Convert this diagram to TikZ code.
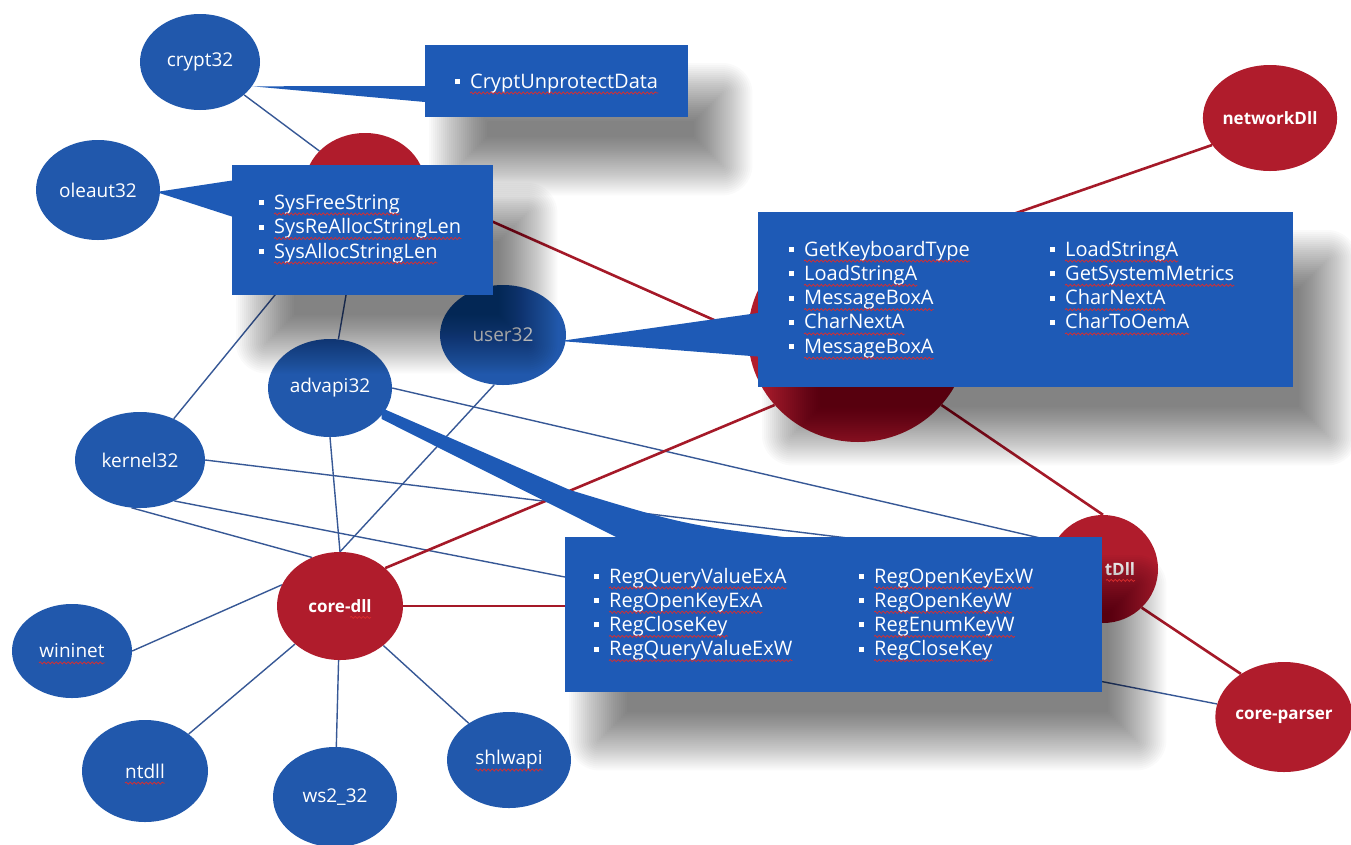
\documentclass[tikz,border=0pt]{standalone}
\usepackage{fontspec}
\setmainfont{Open Sans}
\usetikzlibrary{shapes.geometric,calc,decorations.pathmorphing}
\definecolor{nodeblue}{RGB}{33,88,172}
\definecolor{boxblue}{RGB}{30,90,182}
\definecolor{nodered}{RGB}{176,28,44}
\definecolor{linered}{RGB}{165,25,40}
\definecolor{lineblue}{RGB}{55,88,150}
\definecolor{wavered}{RGB}{220,45,45}
\newcommand\bl{\raisebox{4pt}{\rule{5pt}{5pt}}\hspace{10pt}}
\newcommand\boxshadow[1]{%
  \foreach \k in {0,...,29}{%
    \pgfmathsetmacro\e{-28+58*\k/29}%
    \pgfmathsetmacro\rc{max(1,\e)}%
    \fill[black,opacity=0.019,rounded corners=\rc pt] ($(#1.north west)+(34-\e,48-\e)$) rectangle ($(#1.south east)+(34+\e,48+\e)$);}}
\pgfdeclarelayer{bg}
\pgfdeclarelayer{shadows}
\pgfdeclarelayer{tails}
\pgfdeclarelayer{boxes}
\pgfdeclarelayer{texts}
\pgfsetlayers{bg,main,shadows,tails,boxes,texts}
\tikzset{
  dll/.style={ellipse, fill=nodeblue, text=white, inner sep=0pt, font=\fontsize{19}{21}\selectfont},
  rdll/.style={ellipse, fill=nodered, text=white, inner sep=0pt, font=\bfseries\fontsize{17}{20}\selectfont},
  callbox/.style={rectangle, fill=boxblue, inner sep=0pt, anchor=north west},
  tail/.style={fill=boxblue},
  item/.style={anchor=base west, inner sep=0pt, text=white, font=\fontsize{20}{22}\selectfont},
  bline/.style={draw=lineblue, line width=1.4pt},
  rline/.style={draw=linered, line width=2.6pt},
  wave/.style={draw=wavered, line width=0.7pt, decorate, decoration={snake, segment length=4pt, amplitude=1.1pt}},
}
\begin{document}
\begin{tikzpicture}[x=1pt,y=-1pt]
\useasboundingbox (0,0) rectangle (1351,844);
\begin{pgfonlayer}{bg}
\fill[white] (0,0) rectangle (1351,844);
\end{pgfonlayer}
% library nodes
\node[dll, minimum width=120, minimum height=96] (crypt32) at (200,62) {crypt32};
\node[dll, minimum width=124, minimum height=100] (oleaut32) at (98,190) {oleaut32};
\node[rdll, minimum width=120, minimum height=104] (redA) at (365,185) {};
\node[dll, minimum width=126, minimum height=100] (user32) at (503,335) {user32};
\node[dll, minimum width=124, minimum height=98] (advapi32) at (330,388) {advapi32};
\node[dll, minimum width=130, minimum height=96] (kernel32) at (140,460) {kernel32};
\node[rdll, minimum width=126, minimum height=108] (coredll) at (340,606) {core-dll};
\node[dll, minimum width=120, minimum height=94] (wininet) at (72,651) {wininet};
\node[dll, minimum width=126, minimum height=102] (ntdll) at (145,771) {ntdll};
\node[dll, minimum width=124, minimum height=100] (ws232) at (335,797) {ws2\_32};
\node[dll, minimum width=124, minimum height=96] (shlwapi) at (509,760) {shlwapi};
\node[rdll, minimum width=110, minimum height=106] (network) at (1270,118) {networkDll};
\node[rdll, minimum width=220, minimum height=214] (bigred) at (858,335) {};
\node[rdll, minimum width=110, minimum height=108] (tdll) at (1103,569) {\hspace*{34pt}tDll};
\node[rdll, minimum width=124, minimum height=110] (parser) at (1284,717) {core-parser};
% callout boxes
\begin{pgfonlayer}{boxes}
\node[callbox, minimum width=263, minimum height=72] (cbox) at (425,45) {};
\node[callbox, minimum width=261, minimum height=130] (obox) at (232,165) {};
\node[callbox, minimum width=535, minimum height=175] (ubox) at (758,212) {};
\node[callbox, minimum width=537, minimum height=155] (abox) at (565,537) {};
\end{pgfonlayer}
\begin{pgfonlayer}{shadows}
\boxshadow{cbox}
\boxshadow{obox}
\boxshadow{ubox}
\boxshadow{abox}
\end{pgfonlayer}
% texts
\begin{pgfonlayer}{texts}
\node[item] (c1) at (455,88) {\bl CryptUnprotectData};
\draw[wave] ($(c1.base west)+(15,5)$) -- ($(c1.base east)+(0,5)$);
\foreach \t [count=\i] in {SysFreeString,SysReAllocStringLen,SysAllocStringLen}{
  \node[item] (o\i) at (259,{209+24.5*(\i-1)}) {\bl\t};
  \draw[wave] ($(o\i.base west)+(15,5)$) -- ($(o\i.base east)+(0,5)$);}
\foreach \t [count=\i] in {GetKeyboardType,LoadStringA,MessageBoxA,CharNextA,MessageBoxA}{
  \node[item] (ul\i) at (789,{256+24.3*(\i-1)}) {\bl\t};
  \draw[wave] ($(ul\i.base west)+(15,5)$) -- ($(ul\i.base east)+(0,5)$);}
\foreach \t [count=\i] in {LoadStringA,GetSystemMetrics,CharNextA,CharToOemA}{
  \node[item] (ur\i) at (1050,{256+24.3*(\i-1)}) {\bl\t};
  \draw[wave] ($(ur\i.base west)+(15,5)$) -- ($(ur\i.base east)+(0,5)$);}
\foreach \t [count=\i] in {RegQueryValueExA,RegOpenKeyExA,RegCloseKey,RegQueryValueExW}{
  \node[item] (al\i) at (594,{583+24.2*(\i-1)}) {\bl\t};
  \draw[wave] ($(al\i.base west)+(15,5)$) -- ($(al\i.base east)+(0,5)$);}
\foreach \t [count=\i] in {RegOpenKeyExW,RegOpenKeyW,RegEnumKeyW,RegCloseKey}{
  \node[item] (ar\i) at (859,{583+24.2*(\i-1)}) {\bl\t};
  \draw[wave] ($(ar\i.base west)+(15,5)$) -- ($(ar\i.base east)+(0,5)$);}
% spell-check waves under node labels
\draw[wave] ($(wininet.base)+(-33,5)$) -- ($(wininet.base)+(33,5)$);
\draw[wave] ($(ntdll.base)+(-20,5)$) -- ($(ntdll.base)+(20,5)$);
\draw[wave] ($(shlwapi.base)+(-34,5)$) -- ($(shlwapi.base)+(34,5)$);
\draw[wave] ($(coredll.base)+(10,5)$) -- ($(coredll.base)+(31,5)$);
\draw[wave] ($(tdll.base)+(3,5)$) -- ($(tdll.base)+(32,5)$);
\end{pgfonlayer}
% callout tails
\begin{pgfonlayer}{tails}
\fill[tail] (crypt32.-25) -- ($(cbox.west)+(2,5)$) -- ($(cbox.west)+(2,21)$) -- cycle;
\fill[tail] ($(oleaut32.east)+(-4,2)$) -- ($(obox.west)+(2,-50)$) -- ($(obox.west)+(2,-13)$) -- cycle;
\fill[tail] ($(user32.east)+(-6,6)$) -- ($(ubox.west)+(2,13)$) -- ($(ubox.west)+(2,57)$) -- cycle;
\fill[tail] ($(advapi32.-25)+(-2,-5)$) -- ($(abox.north west)+(5,-47)$)
   .. controls ($(abox.north west)+(120,-12)$) .. ($(abox.north west)+(235,2)$)
   -- ($(abox.north west)+(55,2)$) -- ($(advapi32.-25)+(-2,6)$) -- cycle;
\end{pgfonlayer}
% connectors
\begin{pgfonlayer}{bg}
\draw[bline] (crypt32) -- (redA);
\draw[bline] (redA) -- (kernel32);
\draw[bline] (redA) -- (advapi32);
\draw[bline] (user32.-100) -- (coredll.north);
\draw[bline] (advapi32.south) -- (coredll.north);
\draw[bline] (advapi32.east) -- (tdll.150);
\draw[bline] (kernel32.east) -- (tdll);
\draw[bline] (kernel32.-50) -- (parser);
\draw[bline] (kernel32.-100) -- (coredll.120);
\draw[bline] (wininet.east) -- (coredll.160);
\draw[bline] (coredll) -- (ntdll);
\draw[bline] (coredll) -- (ws232);
\draw[bline] (coredll) -- (shlwapi);
\draw[rline] ([yshift=20pt]redA.center) -- (bigred.west);
\draw[rline] (bigred.55) -- (network.205);
\draw[rline] (coredll.40) -- (bigred.220);
\draw[rline] (bigred.-40) -- (tdll.north);
\draw[rline] (coredll.east) -- (coredll.east -| tdll.west);
\draw[rline] (tdll.-45) -- (parser.135);
\end{pgfonlayer}
\end{tikzpicture}
\end{document}
